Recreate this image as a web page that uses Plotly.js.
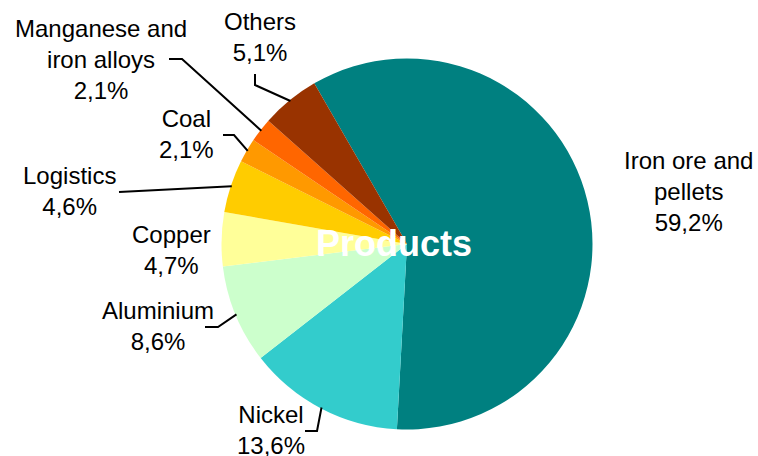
<!DOCTYPE html>
<html>
<head>
<meta charset="utf-8">
<script src="https://cdn.plot.ly/plotly-3.0.1.min.js"></script>
<style>html,body{margin:0;padding:0;background:#fff;}#chart{width:758px;height:456px;}</style>
</head>
<body>
<div id="chart"></div>
<script>
// ---- data ----
const categories = ['Iron ore and pellets', 'Nickel', 'Aluminium', 'Copper', 'Logistics', 'Coal', 'Manganese and iron alloys', 'Others'];
const labelNames = ['Iron ore and<br>pellets', 'Nickel', 'Aluminium', 'Copper', 'Logistics', 'Coal', 'Manganese and<br>iron alloys', 'Others'];
const shares = [59.2, 13.6, 8.6, 4.7, 4.6, 2.1, 2.1, 5.1];
const colors = ['#008080', '#33CCCC', '#CCFFCC', '#FFFF99', '#FFCC00', '#FF9900', '#FF6600', '#993300'];
const centerTitle = 'Products';

// ---- layout / style (pixels) ----
const W = 758, H = 456;
const cx = 407, cy = 244, R = 185.5;
const rotationDeg = -30;
const labelCenters = [[688, 191], [271, 430], [158, 326], [171, 249.5], [69.5, 191], [186.5, 134.5], [101, 59], [259.5, 37]];
const leaderElbows = [null, [[305, 431], [317, 431]], [[205, 327], [218, 327]], null, [[119, 192]], [[223, 135], [234, 135]], [[169, 59], [182, 59]], [[255, 74], [255, 85]]];

const px = x => x / W;
const py = y => 1 - y / H;
const fmt = v => v.toFixed(1).replace('.', ',') + '%';

const total = shares.reduce((a, b) => a + b, 0);
let acc = 0;
const annotations = [];
const shapes = [];
shares.forEach((v, i) => {
  const midDeg = rotationDeg + (acc + v / 2) / total * 360;
  acc += v;
  const a = midDeg * Math.PI / 180;
  const ex = cx + (R - 1) * Math.sin(a);
  const ey = cy - (R - 1) * Math.cos(a);
  annotations.push({
    xref: 'paper', yref: 'paper', x: px(labelCenters[i][0]), y: py(labelCenters[i][1]),
    xanchor: 'center', yanchor: 'middle', align: 'center', showarrow: false,
    text: labelNames[i] + '<br>' + fmt(v),
    font: {family: 'Liberation Sans, Arial, sans-serif', size: 24, color: '#000'}
  });
  if (leaderElbows[i]) {
    const pts = leaderElbows[i].concat([[ex, ey]]);
    const path = pts.map((p, k) => (k ? 'L' : 'M') + px(p[0]).toFixed(5) + ',' + py(p[1]).toFixed(5)).join(' ');
    shapes.push({type: 'path', xref: 'paper', yref: 'paper', path: path, line: {color: '#000', width: 2}});
  }
});
annotations.push({
  xref: 'paper', yref: 'paper', x: px(394), y: py(243), xanchor: 'center', yanchor: 'middle', showarrow: false,
  text: '<b>' + centerTitle + '</b>',
  font: {family: 'Liberation Sans, Arial, sans-serif', size: 36, color: '#fff'}
});

const trace = {
  type: 'pie',
  labels: categories,
  values: shares,
  sort: false,
  direction: 'clockwise',
  rotation: rotationDeg,
  textinfo: 'none',
  hoverinfo: 'none',
  showlegend: false,
  marker: {colors: colors, line: {width: 0}},
  domain: {x: [px(cx - R), px(cx + R)], y: [py(cy + R), py(cy - R)]}
};

const layout = {
  width: W, height: H,
  margin: {l: 0, r: 0, t: 0, b: 0},
  paper_bgcolor: '#fff',
  showlegend: false,
  annotations: annotations,
  shapes: shapes
};

Plotly.newPlot('chart', [trace], layout, {staticPlot: true, displayModeBar: false});
</script>
</body>
</html>
